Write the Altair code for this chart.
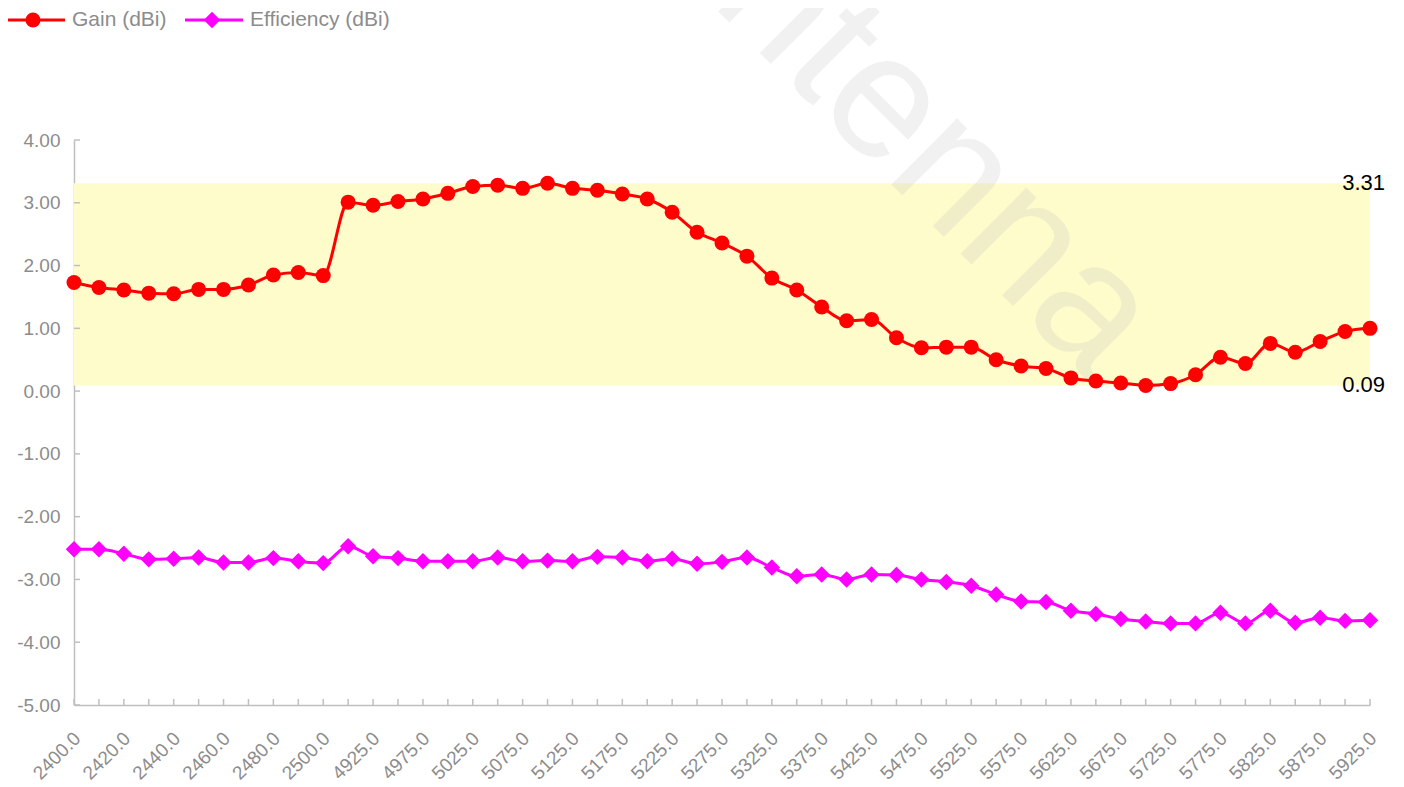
import altair as alt
import pandas as pd

# ---------------- data ----------------
freqs = [2400, 2410, 2420, 2430, 2440, 2450, 2460, 2470, 2480, 2490, 2500,
         4900, 4925, 4950, 4975, 5000, 5025, 5050, 5075, 5100, 5125, 5150,
         5175, 5200, 5225, 5250, 5275, 5300, 5325, 5350, 5375, 5400, 5425,
         5450, 5475, 5500, 5525, 5550, 5575, 5600, 5625, 5650, 5675, 5700,
         5725, 5750, 5775, 5800, 5825, 5850, 5875, 5900, 5925]

gain = [1.73, 1.65, 1.61, 1.56, 1.55, 1.62, 1.62, 1.69, 1.85, 1.89, 1.84,
        3.01, 2.96, 3.02, 3.06, 3.15, 3.26, 3.28, 3.23, 3.31, 3.23, 3.20,
        3.14, 3.06, 2.85, 2.53, 2.36, 2.15, 1.80, 1.61, 1.34, 1.12, 1.14,
        0.85, 0.69, 0.70, 0.70, 0.50, 0.40, 0.36, 0.21, 0.16, 0.13, 0.09,
        0.12, 0.26, 0.54, 0.44, 0.76, 0.62, 0.79, 0.95, 1.00]

efficiency = [-2.52, -2.52, -2.59, -2.68, -2.67, -2.65, -2.73, -2.73, -2.66, -2.71, -2.74,
              -2.47, -2.63, -2.66, -2.71, -2.71, -2.71, -2.65, -2.71, -2.70, -2.71, -2.64,
              -2.65, -2.71, -2.67, -2.75, -2.72, -2.65, -2.81, -2.95, -2.92, -3.00, -2.92,
              -2.93, -3.00, -3.04, -3.10, -3.24, -3.35, -3.36, -3.50, -3.55, -3.63, -3.67,
              -3.70, -3.70, -3.53, -3.70, -3.50, -3.69, -3.61, -3.66, -3.65]

series_names = ["Gain (dBi)", "Efficiency (dBi)"]
series_colors = ["#ff0000", "#ff00ff"]
series_shapes = ["circle", "diamond"]
series_sizes = [225, 270]
y_ticks = [-5, -4, -3, -2, -1, 0, 1, 2, 3, 4]
watermark = "Antenna"

# ---------------- derived tables ----------------
cats = [f"{f:.1f}" for f in freqs]
shown_labels = cats[::2]

rows = []
for c, g, e in zip(cats, gain, efficiency):
    rows.append({"freq": c, "series": series_names[0], "value": g})
    rows.append({"freq": c, "series": series_names[1], "value": e})
df = pd.DataFrame(rows)
cat_df = pd.DataFrame({"freq": cats})
band_df = pd.DataFrame({"value": [max(gain)], "lo": [min(gain)]})
ann_df = pd.DataFrame({"value": [max(gain), min(gain)]})
ytick_df = pd.DataFrame({"value": y_ticks})
one = pd.DataFrame({"k": [0]})

W, H = 1296, 565
FONT = "Liberation Sans"
AXIS_GREY = "#bfbfbf"
LABEL_GREY = "#8c8c8c"

label_js = "[" + ",".join(f"'{s}'" for s in shown_labels) + "]"

xscale = alt.Scale(type="point", padding=0)
yscale = alt.Scale(domain=[-5, 4], nice=False, zero=False)
color_scale = alt.Scale(domain=series_names, range=series_colors)
shape_scale = alt.Scale(domain=series_names, range=series_shapes)
size_scale = alt.Scale(domain=series_names, range=series_sizes)

x_axis = alt.Axis(
    labelAngle=-45, labelAlign="right", labelBaseline="middle",
    labelPadding=30, labelOffset=3, ticks=False, tickSize=0,
    domainColor=AXIS_GREY, domainWidth=1.5, labelColor=LABEL_GREY,
    labelFontSize=19, labelFont=FONT, labelOverlap=False,
    labelExpr=f"indexof({label_js}, datum.value) >= 0 ? datum.label : ''",
    grid=False, title=None,
)
y_axis = alt.Axis(
    values=y_ticks, format=".2f", ticks=False, tickSize=0,
    domainColor=AXIS_GREY, domainWidth=1.5, labelColor=LABEL_GREY,
    labelFontSize=19, labelFont=FONT, labelPadding=14, grid=False, title=None,
    labelExpr="replace(datum.label, '\u2212', '-')",
)


def X():
    return alt.X("freq:O", sort=cats, scale=xscale, axis=x_axis, title=None)


def Y():
    return alt.Y("value:Q", scale=yscale, axis=y_axis, title=None)


band = alt.Chart(band_df).mark_rect(color="#fefcca").encode(
    x=alt.value(0), x2=alt.value(W), y=Y(), y2="lo:Q",
)

wm = alt.Chart(one).mark_text(
    text=watermark, angle=45, fontSize=176, font=FONT, color="#c8c8c8",
    opacity=0.25, align="center", baseline="middle",
).encode(x=alt.value(822), y=alt.value(-26))

xticks = alt.Chart(cat_df).mark_rule(color=AXIS_GREY, strokeWidth=1.5).encode(
    x=X(), y=alt.value(H), y2=alt.value(H - 6),
)
yticks = alt.Chart(ytick_df).mark_rule(color=AXIS_GREY, strokeWidth=1.5).encode(
    y=Y(), x=alt.value(0), x2=alt.value(6),
)

lines = alt.Chart(df).mark_line(strokeWidth=3, interpolate="monotone").encode(
    x=X(), y=Y(),
    color=alt.Color("series:N", scale=color_scale, legend=None),
    detail="series:N",
)
points = alt.Chart(df).mark_point(filled=True, opacity=1).encode(
    x=X(), y=Y(),
    color=alt.Color("series:N", scale=color_scale, legend=None),
    shape=alt.Shape("series:N", scale=shape_scale, legend=None),
    size=alt.Size("series:N", scale=size_scale, legend=None),
)

ann = alt.Chart(ann_df).mark_text(
    align="right", baseline="middle", fontSize=22, font=FONT, color="#000000",
).encode(
    x=alt.value(W + 15), y=Y(),
    text=alt.Text("value:Q", format=".2f"),
)

# manual legend (top-left, above the plot)
LY = -120
legend_layers = []
lx = [(-67, -9, -41, -2), (111, 169, 138, 176)]
for name, col, shp, sz, (a, b, m, t) in zip(series_names, series_colors, series_shapes,
                                            series_sizes, lx):
    legend_layers.append(alt.Chart(one).mark_rule(color=col, strokeWidth=3).encode(
        x=alt.value(a), x2=alt.value(b), y=alt.value(LY)))
    legend_layers.append(alt.Chart(one).mark_point(
        shape=shp, filled=True, size=sz, color=col, opacity=1).encode(
        x=alt.value(m), y=alt.value(LY)))
    legend_layers.append(alt.Chart(one).mark_text(
        text=name, align="left", baseline="middle", fontSize=21, font=FONT,
        color=LABEL_GREY).encode(x=alt.value(t), y=alt.value(LY)))

chart = alt.layer(
    band, wm, xticks, yticks, lines, points, ann, *legend_layers
).properties(
    width=W, height=H,
    autosize=alt.AutoSizeParams(type="none"),
    padding={"left": 66, "top": 132, "right": 22, "bottom": 82},
).configure(font=FONT).configure_view(stroke=None)

chart.save("out.html", embed_options={"renderer": "svg", "actions": False})
